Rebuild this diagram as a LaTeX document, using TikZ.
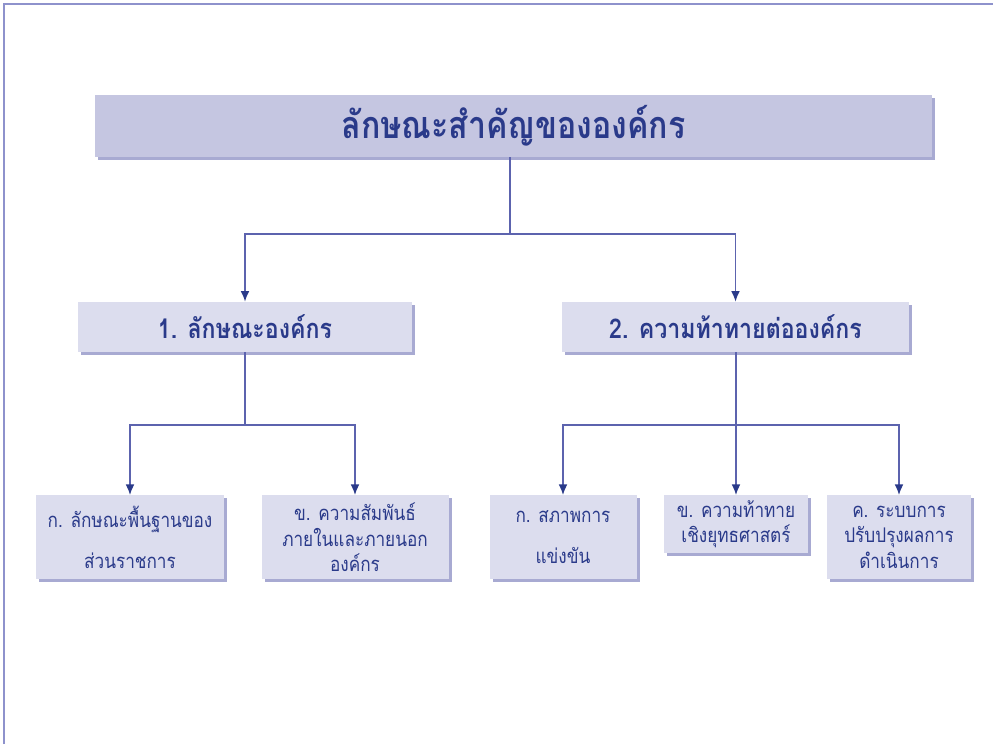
\documentclass[tikz,border=0pt]{standalone}
\usepackage{fontspec}
\newfontfamily\thaifont[Script=Thai,FakeStretch=0.85]{Loma}
\usepackage{tikz}
\usetikzlibrary{arrows,arrows.meta}
\usetikzlibrary{shadows,positioning}
\definecolor{headfill}{HTML}{C5C6E1}
\definecolor{boxfill}{HTML}{DCDDEE}
\definecolor{boxshadow}{HTML}{A8AAD2}
\definecolor{textblue}{HTML}{2A3A8A}
\definecolor{linkblue}{HTML}{5C63AE}
\definecolor{framecol}{HTML}{8E92CC}
\tikzset{>={Latex[length=6pt,width=5pt,color=textblue]},
  box/.style={fill=boxfill, text=textblue, align=center, inner sep=0pt,
    drop shadow={shadow xshift=0.6mm, shadow yshift=-0.6mm, fill=boxshadow, opacity=1}},
  headbox/.style={box, fill=headfill, minimum width=167.4mm, minimum height=12.4mm,
    font=\thaifont\bfseries\fontsize{21.5}{26}\selectfont},
  topicbox/.style={box, minimum height=10mm, font=\thaifont\bfseries\fontsize{15.5}{18}\selectfont},
  itembox/.style={box, anchor=north, minimum height=16.8mm, font=\thaifont\fontsize{11.5}{14.5}\selectfont},
  link/.style={draw=linkblue, line width=0.8pt}}

\begin{document}
\begin{tikzpicture}[x=0.2mm, y=0.2mm]
    \useasboundingbox (0,0) rectangle (993,744);
    \draw[framecol, line width=1pt] (4,0) -- (4,740) -- (993,740);

    \node (head) [headbox] at (513.5,618) {ลักษณะสำคัญขององค์กร};

    \node (t1) [topicbox, minimum width=66.8mm] at (245,417) {1. ลักษณะองค์กร};
    \node (t2) [topicbox, minimum width=69.4mm] at (735.5,417) {2. ความท้าทายต่อองค์กร};

    \node (a1) [itembox, minimum width=37.6mm] at (130,249) {ก. ลักษณะพื้นฐานของ\\[9pt]ส่วนราชการ};
    \node (a2) [itembox, minimum width=37.4mm] at (355,249) {ข. ความสัมพันธ์\\ภายในและภายนอก\\องค์กร};
    \node (b1) [itembox, minimum width=29.4mm] at (563,249) {ก. สภาพการ\\[9pt]แข่งขัน};
    \node (b2) [itembox, minimum width=28.8mm, minimum height=11.6mm] at (736,249) {ข. ความท้าทาย\\เชิงยุทธศาสตร์};
    \node (b3) [itembox, minimum width=28.8mm] at (899,249) {ค. ระบบการ\\ปรับปรุงผลการ\\ดำเนินการ};

    \coordinate (j0) at (510,510);
    \coordinate (j1) at (245,319);
    \coordinate (j2) at (736,319);

    \draw[link] (head.south -| j0) -- (j0);
    \draw[link,->] (j0) -| (t1.north);
    \draw[link,->] (j0) -| (t2.north);

    \draw[link] (t1.south) -- (j1);
    \draw[link,->] (j1) -| (a1.north);
    \draw[link,->] (j1) -| (a2.north);

    \draw[link,->] (t2.south -| b2.north) -- (b2.north);
    \draw[link,->] (j2) -| (b1.north);
    \draw[link,->] (j2) -| (b3.north);
  \end{tikzpicture}
\end{document}
